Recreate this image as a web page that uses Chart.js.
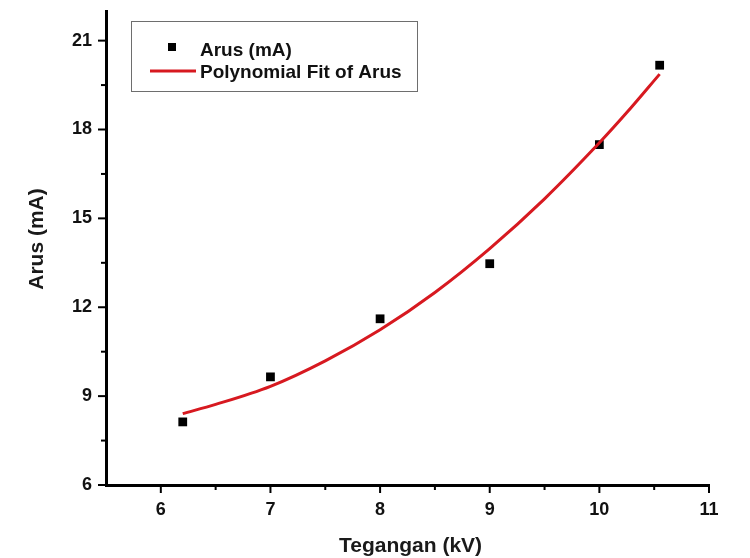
<!DOCTYPE html>
<html><head><meta charset="utf-8">
<script src="https://cdn.jsdelivr.net/npm/chart.js@4"></script>
<style>html,body{margin:0;padding:0;background:#fff}#wrap{width:750px;height:558px}</style>
</head><body><div id="wrap"><canvas id="c" width="750" height="558"></canvas></div>
<script>
const voltage = [6.2, 7, 8, 9, 10, 10.55];
const current = [8.13, 9.65, 11.61, 13.47, 17.49, 20.17];
const fitVoltage = [6.2, 6.5, 7, 7.5, 8, 8.5, 9, 9.5, 10, 10.25, 10.55];
const fitCurrent = [8.41, 8.72, 9.33, 10.19, 11.24, 12.50, 13.98, 15.66, 17.55, 18.57, 19.87];
const xTicks = [6, 7, 8, 9, 10, 11];
const yTicks = [6, 9, 12, 15, 18, 21];
const seriesLabels = ['Arus (mA)', 'Polynomial Fit of Arus'];
const xTitle = 'Tegangan (kV)';
const yTitle = 'Arus (mA)';

const FONT = '"Liberation Sans", Arial, sans-serif';
const RED = '#d71920';

const decorPlugin = {
  id: 'decor',
  afterDraw(chart) {
    const ctx = chart.ctx;
    const xs = chart.scales.x, ys = chart.scales.y;
    const area = chart.chartArea;
    ctx.save();
    ctx.strokeStyle = '#000';
    ctx.lineWidth = 2;
    xs.ticks.forEach(t => {
      const v = t.value;
      if (v <= xs.min + 1e-9) return;
      const major = xTicks.some(m => Math.abs(m - v) < 1e-9);
      const px = xs.getPixelForValue(v);
      const len = major ? 8 : 5;
      ctx.beginPath();
      ctx.moveTo(px, area.bottom);
      ctx.lineTo(px, area.bottom + len);
      ctx.stroke();
    });
    ys.ticks.forEach(t => {
      const v = t.value;
      const major = yTicks.some(m => Math.abs(m - v) < 1e-9);
      const py = ys.getPixelForValue(v);
      const len = major ? 8 : 5;
      ctx.beginPath();
      ctx.moveTo(area.left, py);
      ctx.lineTo(area.left - len, py);
      ctx.stroke();
    });
    ctx.fillStyle = '#1a1a1a';
    ctx.font = 'bold 21px ' + FONT;
    ctx.textAlign = 'center';
    ctx.textBaseline = 'middle';
    ctx.fillText(xTitle, (area.left + area.right) / 2 + 3, 546);
    ctx.save();
    ctx.translate(37, 239);
    ctx.rotate(-Math.PI / 2);
    ctx.fillText(yTitle, 0, 0);
    ctx.restore();
    const ds = chart.data.datasets;
    ctx.lineWidth = 1;
    ctx.strokeStyle = '#6e6e6e';
    ctx.strokeRect(131.5, 21.5, 286, 70);
    ctx.font = 'bold 19px ' + FONT;
    ctx.textAlign = 'left';
    ctx.textBaseline = 'alphabetic';
    ctx.fillStyle = ds[0].backgroundColor;
    ctx.fillRect(168, 43, 8, 8);
    ctx.fillStyle = '#111';
    ctx.fillText(ds[0].label, 200, 55.5);
    ctx.strokeStyle = ds[1].borderColor;
    ctx.lineWidth = 3;
    ctx.beginPath();
    ctx.moveTo(150, 71);
    ctx.lineTo(196, 71);
    ctx.stroke();
    ctx.fillText(ds[1].label, 200, 77.5);
    ctx.restore();
  }
};

new Chart(document.getElementById('c'), {
  type: 'scatter',
  data: {
    datasets: [
      {
        label: seriesLabels[0],
        data: voltage.map((x, i) => ({x: x, y: current[i]})),
        showLine: false,
        pointStyle: 'rect',
        pointRadius: 6.2,
        pointHoverRadius: 6.2,
        backgroundColor: '#000',
        borderColor: '#000',
        borderWidth: 0,
        order: 1
      },
      {
        label: seriesLabels[1],
        data: fitVoltage.map((x, i) => ({x: x, y: fitCurrent[i]})),
        showLine: true,
        borderColor: RED,
        backgroundColor: RED,
        borderWidth: 3,
        pointRadius: 0,
        cubicInterpolationMode: 'monotone',
        fill: false,
        order: 0
      }
    ]
  },
  options: {
    responsive: false,
    animation: false,
    devicePixelRatio: 1,
    layout: {padding: {left: 0, right: 41, top: 11, bottom: 0}},
    plugins: {legend: {display: false}, tooltip: {enabled: false}},
    scales: {
      x: {
        type: 'linear',
        min: 5.5,
        max: 11,
        afterFit: s => { s.height = 73; s.paddingLeft = 0; s.paddingRight = 0; },
        ticks: {
          stepSize: 0.5,
          includeBounds: false,
          autoSkip: false,
          maxRotation: 0,
          padding: 6,
          color: '#111',
          font: {family: FONT, size: 18, weight: 'bold'},
          callback: v => xTicks.some(m => Math.abs(m - v) < 1e-9) ? String(v) : ''
        },
        grid: {drawOnChartArea: false, drawTicks: true, tickLength: 8, color: 'rgba(0,0,0,0)', tickColor: 'rgba(0,0,0,0)'},
        border: {display: true, color: '#000', width: 3}
      },
      y: {
        type: 'linear',
        min: 6,
        max: 22,
        afterFit: s => { s.width = 106; s.paddingTop = 0; s.paddingBottom = 0; },
        ticks: {
          stepSize: 1.5,
          includeBounds: false,
          autoSkip: false,
          padding: 6,
          color: '#111',
          font: {family: FONT, size: 18, weight: 'bold'},
          callback: v => yTicks.some(m => Math.abs(m - v) < 1e-9) ? String(v) : ''
        },
        grid: {drawOnChartArea: false, drawTicks: true, tickLength: 8, color: 'rgba(0,0,0,0)', tickColor: 'rgba(0,0,0,0)'},
        border: {display: true, color: '#000', width: 3}
      }
    }
  },
  plugins: [decorPlugin]
});
</script>
</body></html>
